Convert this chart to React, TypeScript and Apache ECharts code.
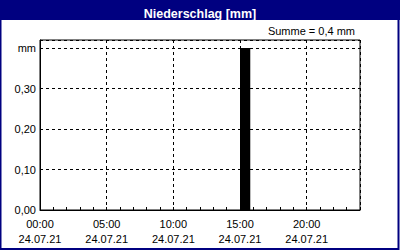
import React, { useEffect, useRef } from "react";
import * as echarts from "echarts";

const title = "Niederschlag [mm]";
const sumText = "Summe = 0,4 mm";
const dateLabel = "24.07.21";
const hours = [0, 1, 2, 3, 4, 5, 6, 7, 8, 9, 10, 11, 12, 13, 14, 15, 16, 17, 18, 19, 20, 21, 22, 23];
const rain = [0, 0, 0, 0, 0, 0, 0, 0, 0, 0, 0, 0, 0, 0, 0, 0.4, 0, 0, 0, 0, 0, 0, 0, 0];
const yTickLabels: Record<string, string> = { "0": "0,00", "0.1": "0,10", "0.2": "0,20", "0.3": "0,30", "0.4": "mm" };

const FONT = "Liberation Sans";

export default function App() {
  const ref = useRef<HTMLDivElement>(null);
  useEffect(() => {
    const chart = echarts.init(ref.current!, null, { renderer: "svg" });
    const data = hours.map((h, i) => [h, rain[i]]).filter((d) => d[1] > 0);
    chart.setOption({
      animation: false,
      backgroundColor: "#ffffff",
      title: {
        text: title,
        left: "center",
        top: 2,
        textStyle: { color: "#ffffff", fontFamily: FONT, fontWeight: "bold", fontSize: 12.5 },
      },
      graphic: [
        { type: "rect", shape: { x: 0, y: 0, width: 400, height: 20 }, style: { fill: "#000080" }, z: -1 },
        { type: "rect", shape: { x: 0.5, y: 0.5, width: 398, height: 248.5 }, style: { fill: "none", stroke: "#000080", lineWidth: 2 }, z: -1 },
        {
          type: "text",
          right: 45,
          top: 25,
          style: { text: sumText, fill: "#000000", font: `11px ${FONT}` },
        },
      ],
      grid: { left: 40, right: 40, top: 40, bottom: 40, show: true, borderColor: "#000000", borderWidth: 1, backgroundColor: "transparent" },
      xAxis: {
        type: "value",
        min: 0,
        max: 24,
        interval: 5,
        axisLine: { show: true, lineStyle: { color: "#000000" } },
        axisTick: { show: true, inside: true, length: 3, lineStyle: { color: "#000000" } },
        minorTick: { show: true, splitNumber: 5, length: 3, lineStyle: { color: "#000000" } },
        splitLine: { show: true, lineStyle: { color: "#000000", type: [3, 3] } },
        axisLabel: {
          color: "#000000",
          fontFamily: FONT,
          fontSize: 11,
          lineHeight: 15,
          margin: 6,
          showMaxLabel: false,
          formatter: (v: number) => (v >= 24 ? "" : `${String(v).padStart(2, "0")}:00\n${dateLabel}`),
        },
      },
      yAxis: {
        type: "value",
        min: 0,
        max: 0.42,
        interval: 0.1,
        axisLine: { show: true, lineStyle: { color: "#000000" } },
        axisTick: { show: false },
        splitLine: { show: true, lineStyle: { color: "#000000", type: [3, 3] } },
        axisLabel: {
          color: "#000000",
          fontFamily: FONT,
          fontSize: 11,
          margin: 4,
          showMaxLabel: false,
          formatter: (v: number) => yTickLabels[String(Math.round(v * 10) / 10)] ?? "",
        },
      },
      series: [
        {
          type: "custom",
          data,
          renderItem: (params: any, api: any) => {
            const start = api.coord([api.value(0), api.value(1)]);
            const end = api.coord([api.value(0) + 1, 0]);
            return {
              type: "rect",
              shape: { x: start[0], y: start[1], width: (end[0] - start[0]) * 0.77, height: end[1] - start[1] },
              style: { fill: "#000000" },
            };
          },
        },
      ],
    });
    return () => chart.dispose();
  }, []);
  return <div ref={ref} style={{ width: 400, height: 250, position: "absolute", left: 0, top: 0 }} />;
}
